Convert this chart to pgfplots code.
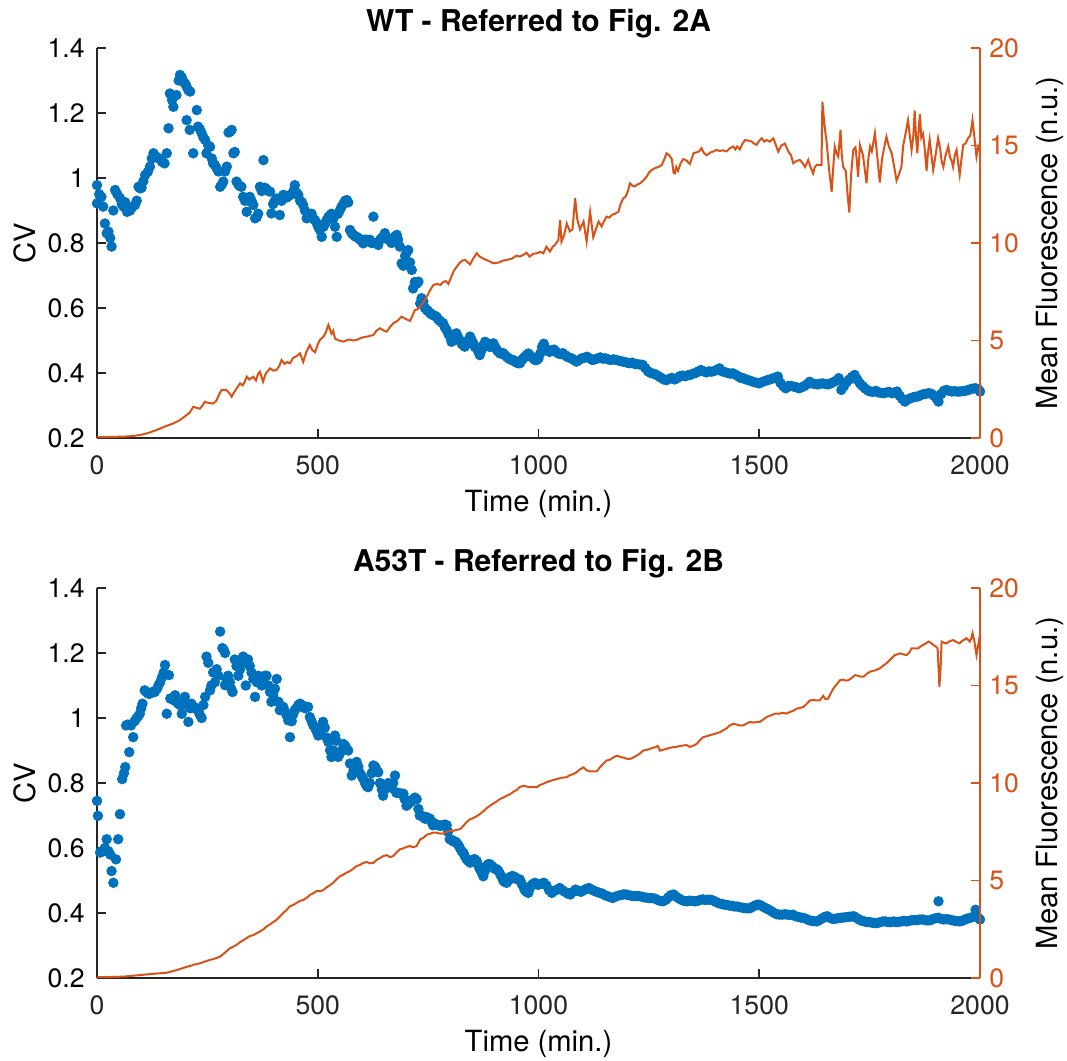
\documentclass[border=0pt]{standalone}
\usepackage{fontspec}
\setmainfont{TeX Gyre Heros}
\usepackage{pgfplots}
\pgfplotsset{compat=1.18}

\definecolor{mblue}{RGB}{0,114,189}
\definecolor{morange}{RGB}{217,83,25}
\definecolor{mgray}{RGB}{38,38,38}

\pgfplotsset{
  base/.style={
    scale only axis, width=441.5pt, height=195pt,
    xmin=0, xmax=2000, clip=false,
    tick align=inside, major tick length=4.5pt,
    /pgf/number format/assume math mode=true,
    /pgf/number format/1000 sep={},
    tick label style={font=\fontsize{13.3}{15}\selectfont, inner sep=0pt},
    axis line style={line width=0.9pt},
    every tick/.style={line width=0.9pt},
  },
  cvaxis/.style={
    base,
    axis x line*=bottom, axis y line*=left,
    ymin=0.2, ymax=1.4,
    ytick={0.2,0.4,0.6,0.8,1,1.2,1.4},
    xtick={0,500,1000,1500,2000},
    axis line style={mgray}, every tick/.append style={mgray},
    xticklabel style={anchor=base, yshift=-18.5pt, text=mgray},
    yticklabel style={anchor=east, xshift=-6pt, text=black},
    ylabel={CV}, xlabel={Time (min.)},
    every axis y label/.style={at={(axis description cs:-0.0702,0.5)}, rotate=90, anchor=base, font=\fontsize{14.6}{16}\selectfont},
    every axis x label/.style={at={(axis description cs:0.5,0)}, yshift=-37pt, anchor=base, font=\fontsize{14.6}{16}\selectfont},
    every axis title/.style={at={(axis description cs:0.5,1)}, yshift=8pt, anchor=base, font=\fontsize{15}{17}\selectfont\bfseries},
  },
  flaxis/.style={
    base,
    axis x line=none, axis y line*=right,
    ymin=0, ymax=20, ytick={0,5,10,15,20},
    axis line style={morange}, every tick/.append style={morange},
    yticklabel style={anchor=west, xshift=4.5pt, text=morange},
    ylabel={Mean Fluorescence (n.u.)},
    every axis y label/.style={at={(axis description cs:1.0872,0.5)}, rotate=90, anchor=base, font=\fontsize{14.6}{16}\selectfont},
  },
  cvdots/.style={only marks, mark=*, mark size=2.4pt, mblue, mark options={draw=mblue, fill=mblue}},
  flline/.style={morange, line width=1pt, no marks},
}

\begin{document}
\begin{tikzpicture}
\useasboundingbox (-48.5pt,-41.5pt) rectangle (485pt,489pt);

% ---------------- WT ----------------
\begin{axis}[cvaxis, at={(0,270pt)}, anchor=south west, title={WT - Referred to Fig. 2A}]
\addplot[cvdots] coordinates {
(0,0.978)(0,0.922)(5,0.95)(10,0.942)(14,0.912)(18,0.86)(22,0.83)(26,0.835)(30,0.815)(33,0.789)
(37,0.90)(41,0.963)(46,0.95)(52,0.938)(56,0.92)(60,0.912)(64,0.925)(68,0.896)(72,0.905)(75,0.90)
(80,0.91)(86,0.917)(90,0.93)(94,0.973)(98,0.968)(101,0.97)(105,0.99)(109,1.009)(115,1.019)(120,1.035)
(124,1.06)(128,1.076)(135,1.065)(140,1.06)(147,1.05)(153,1.045)(158,1.076)(162,1.153)(165,1.26)(170,1.24)
(173,1.219)(180,1.255)(185,1.30)(188,1.317)(192,1.31)(196,1.296)(200,1.29)(203,1.281)(207,1.27)(211,1.266)
(203,1.178)(210,1.148)(218,1.076)(226,1.209)(229,1.158)(233,1.15)(237,1.138)(241,1.125)(245,1.117)(248,1.076)
(252,1.10)(256,1.096)(260,1.06)(263,1.045)(267,1.04)(271,1.03)(275,1.02)(279,0.973)(283,0.98)(286,0.989)
(290,1.02)(294,1.035)(298,1.14)(301,1.142)(305,1.148)(309,1.076)(312,1.08)(316,0.989)(320,0.98)(324,0.975)
(327,0.973)(331,0.942)(335,0.93)(339,0.896)(343,0.93)(346,0.942)(350,0.93)(354,0.917)(358,0.876)(362,0.88)
(365,0.89)(369,0.973)(373,0.96)(377,1.055)(380,0.97)(384,0.965)(388,0.96)(392,0.958)(395,0.891)(399,0.92)
(403,0.93)(407,0.937)(410,0.935)(414,0.886)(418,0.93)(422,0.948)(426,0.945)(430,0.94)(434,0.945)(437,0.948)
(441,0.95)(445,0.96)(448,0.978)(452,0.955)(456,0.948)(460,0.93)(464,0.925)(467,0.917)(471,0.90)(475,0.876)
(479,0.88)(482,0.885)(486,0.89)(490,0.875)(494,0.87)(498,0.86)(501,0.85)(505,0.84)(509,0.819)(513,0.85)
(517,0.86)(520,0.87)(524,0.88)(528,0.885)(531,0.89)(535,0.875)(539,0.85)(543,0.819)(546,0.89)(550,0.90)
(554,0.912)(558,0.92)(562,0.93)(566,0.932)(569,0.925)(573,0.84)(577,0.83)(581,0.825)(585,0.82)(588,0.819)
(592,0.815)(596,0.81)(600,0.805)(603,0.799)(607,0.81)(611,0.81)(615,0.805)(618,0.81)(622,0.80)(626,0.881)
(630,0.80)(633,0.80)(637,0.794)(641,0.81)(645,0.815)(648,0.819)(652,0.83)(656,0.815)(660,0.81)(664,0.809)
(667,0.80)(671,0.815)(675,0.82)(679,0.825)(682,0.81)(686,0.789)(690,0.737)(694,0.73)(698,0.76)(701,0.77)
(705,0.778)(709,0.74)(713,0.717)(716,0.66)(720,0.68)(724,0.675)(728,0.681)(732,0.614)(735,0.63)(739,0.62)
(743,0.60)(747,0.594)(750,0.59)(754,0.585)(758,0.58)(762,0.578)(766,0.575)(769,0.573)(773,0.565)(777,0.56)
(781,0.555)(784,0.553)(788,0.54)(792,0.532)(796,0.52)(800,0.51)(803,0.496)(807,0.50)(811,0.515)(814,0.522)
(818,0.51)(822,0.50)(826,0.49)(830,0.485)(833,0.481)(837,0.49)(841,0.50)(845,0.512)(849,0.50)(853,0.49)
(856,0.48)(860,0.476)(864,0.465)(867,0.455)(871,0.47)(875,0.485)(879,0.496)(883,0.49)(887,0.485)(890,0.48)
(894,0.49)(898,0.491)(902,0.48)(906,0.47)(910,0.465)(913,0.46)(917,0.46)(920,0.461)(924,0.455)(928,0.45)
(932,0.445)(935,0.443)(939,0.44)(943,0.44)(947,0.435)(950,0.432)(954,0.43)(958,0.43)(962,0.44)(966,0.445)
(969,0.45)(973,0.455)(977,0.46)(980,0.455)(984,0.45)(988,0.445)(992,0.44)(996,0.44)(1000,0.445)
(1004,0.46)(1008,0.48)(1012,0.49)(1016,0.475)(1020,0.47)(1025,0.465)(1030,0.47)(1035,0.472)(1040,0.465)(1045,0.46)
(1050,0.458)(1055,0.461)(1060,0.455)(1065,0.45)(1070,0.447)(1075,0.445)(1080,0.44)(1086,0.435)(1092,0.44)(1098,0.445)
(1104,0.447)(1110,0.45)(1116,0.445)(1122,0.44)(1128,0.442)(1134,0.445)(1140,0.448)(1146,0.444)(1152,0.445)(1158,0.442)
(1164,0.44)(1170,0.442)(1176,0.44)(1182,0.438)(1188,0.436)(1194,0.434)(1200,0.432)(1206,0.43)(1212,0.432)(1218,0.428)
(1224,0.427)(1230,0.426)(1236,0.425)(1242,0.415)(1248,0.405)(1254,0.40)(1260,0.398)(1266,0.395)(1272,0.39)(1278,0.385)
(1284,0.38)(1290,0.378)(1296,0.382)(1302,0.385)(1308,0.38)(1314,0.384)(1320,0.39)(1326,0.392)(1332,0.39)(1338,0.393)
(1344,0.394)(1350,0.398)(1356,0.40)(1362,0.405)(1368,0.409)(1374,0.405)(1380,0.402)(1386,0.405)(1392,0.404)(1398,0.406)
(1404,0.41)(1410,0.414)(1416,0.405)(1422,0.403)(1428,0.40)(1434,0.398)(1440,0.399)(1446,0.395)(1452,0.39)(1458,0.385)
(1464,0.384)(1470,0.38)(1476,0.378)(1482,0.375)(1488,0.372)(1494,0.37)(1500,0.368)(1506,0.372)(1512,0.375)(1518,0.378)
(1524,0.38)(1530,0.383)(1536,0.385)(1542,0.389)(1548,0.37)(1554,0.36)(1560,0.353)(1566,0.36)(1572,0.36)(1578,0.358)
(1584,0.356)(1590,0.353)(1596,0.356)(1602,0.36)(1608,0.365)(1614,0.373)(1620,0.368)(1626,0.366)(1632,0.365)(1638,0.367)
(1644,0.368)(1650,0.366)(1656,0.365)(1662,0.368)(1668,0.372)(1674,0.376)(1680,0.384)(1686,0.348)(1692,0.36)(1698,0.372)
(1704,0.38)(1710,0.388)(1716,0.394)(1722,0.38)(1728,0.368)(1734,0.36)(1740,0.352)(1746,0.346)(1752,0.343)(1758,0.342)
(1764,0.345)(1770,0.34)(1776,0.339)(1782,0.338)(1788,0.34)(1794,0.342)(1800,0.338)(1806,0.34)(1812,0.343)(1818,0.33)
(1824,0.32)(1830,0.312)(1836,0.318)(1842,0.322)(1848,0.325)(1854,0.327)(1860,0.328)(1866,0.332)(1872,0.335)(1878,0.336)
(1884,0.338)(1890,0.336)(1896,0.33)(1902,0.32)(1906,0.312)(1912,0.335)(1918,0.345)(1924,0.348)(1930,0.345)(1936,0.343)
(1942,0.344)(1948,0.343)(1954,0.343)(1960,0.344)(1966,0.345)(1972,0.347)(1978,0.35)(1984,0.352)(1990,0.353)(1996,0.35)
(2000,0.343)
};
\end{axis}
\begin{axis}[flaxis, at={(0,270pt)}, anchor=south west]
\addplot[flline] coordinates {
(0,0.05)(20,0.05)(40,0.06)(60,0.07)(80,0.1)(97,0.15)(115,0.25)(135,0.41)(155,0.6)(173,0.75)
(188,0.92)(203,1.18)(210,1.3)(218,1.6)(225,1.55)(233,1.5)(240,1.7)(244,1.86)(252,1.8)(263,1.77)
(270,1.9)(276,2.2)(282,2.46)(293,2.46)(300,2.3)(305,2.12)(312,2.4)(318,2.6)(324,2.8)(330,2.7)
(335,2.9)(339,3.14)(345,3.0)(354,3.14)(360,2.95)(365,3.3)(369,3.4)(376,2.89)(382,3.3)(392,3.57)
(400,3.45)(407,3.5)(413,3.7)(418,4.0)(425,3.8)(431,3.9)(437,3.83)(444,4.1)(452,4.2)(460,4.34)
(467,3.9)(474,4.4)(482,4.77)(488,4.5)(494,4.4)(500,4.8)(505,5.03)(513,5.2)(518,5.4)(524,5.8)
(531,5.35)(535,5.5)(539,5.1)(548,5.0)(558,4.94)(570,5.05)(580,5.0)(588,5.03)(600,5.15)(612,5.2)
(626,5.28)(633,5.5)(641,5.63)(650,5.5)(656,5.45)(664,5.7)(671,5.88)(680,6.0)(690,6.22)(700,6.1)
(709,6.0)(715,6.3)(720,6.56)(726,6.6)(732,6.73)(740,7.0)(747,7.25)(755,7.6)(762,7.85)(770,7.9)
(778,7.85)(784,8.0)(790,8.05)(796,7.9)(803,8.3)(809,8.6)(815,8.79)(822,9.0)(828,9.1)(834,9.13)
(840,9.0)(845,8.9)(852,9.2)(860,9.47)(867,9.3)(875,9.2)(885,9.1)(898,8.96)(910,9.0)(920,9.1)
(928,9.13)(940,9.2)(950,9.35)(958,9.3)(966,9.4)(973,9.5)(980,9.3)(988,9.45)(996,9.47)(1004,9.55)
(1011,9.47)(1018,9.81)(1026,9.56)(1032,9.8)(1037,9.9)(1045,10.15)(1049,11.18)(1052,10.07)(1058,10.4)(1064,11.0)
(1071,10.6)(1077,10.7)(1083,12.29)(1088,11.2)(1094,10.7)(1102,11.1)(1109,10.07)(1117,11.6)(1124,10.3)(1130,10.7)
(1136,11.1)(1143,10.85)(1148,11.1)(1154,11.35)(1160,11.3)(1167,11.45)(1173,11.5)(1181,11.6)(1186,12.0)(1192,12.29)
(1198,12.4)(1203,12.7)(1207,13.06)(1212,12.95)(1218,12.9)(1224,13.0)(1230,13.06)(1237,13.2)(1245,13.4)(1250,13.6)
(1256,13.74)(1265,13.85)(1272,13.9)(1279,14.0)(1285,14.3)(1290,14.6)(1296,14.5)(1302,14.3)(1306,13.6)(1309,13.57)
(1312,13.9)(1316,13.7)(1322,14.1)(1328,14.3)(1334,14.25)(1343,14.05)(1351,14.6)(1358,14.65)(1364,14.7)(1369,14.86)
(1375,14.6)(1381,14.5)(1390,14.65)(1397,14.7)(1403,14.77)(1410,14.72)(1418,14.75)(1426,14.7)(1433,14.85)(1441,14.95)
(1446,14.8)(1450,14.95)(1456,14.8)(1462,15.1)(1468,15.28)(1475,15.25)(1483,15.2)(1488,15.1)(1494,15.03)(1500,15.25)
(1506,15.37)(1511,15.2)(1517,15.28)(1524,15.2)(1532,15.37)(1538,15.0)(1543,14.68)(1550,15.0)(1558,15.1)(1562,14.9)
(1566,14.68)(1572,14.5)(1577,14.09)(1584,14.2)(1592,14.26)(1598,14.1)(1604,13.9)(1611,14.26)(1616,13.9)(1622,13.57)
(1626,13.9)(1630,14.0)(1641,14.0)(1643,17.25)(1648,16.0)(1653,15.1)(1658,13.8)(1664,12.63)(1668,14.0)(1671,14.95)
(1675,14.6)(1679,14.43)(1684,15.8)(1687,14.5)(1690,13.9)(1696,13.7)(1700,12.5)(1704,11.56)(1708,13.5)(1713,14.77)
(1718,14.9)(1721,14.2)(1724,13.4)(1728,15.03)(1735,14.5)(1743,13.06)(1747,14.3)(1751,14.95)(1755,14.7)(1762,15.63)
(1767,14.5)(1773,13.1)(1778,14.3)(1783,14.9)(1788,15.45)(1793,15.0)(1800,14.6)(1805,14.0)(1811,13.2)(1816,13.5)
(1822,13.9)(1826,15.0)(1830,15.45)(1837,16.3)(1841,15.5)(1845,14.77)(1849,15.5)(1852,16.8)(1855,15.5)(1858,14.6)
(1861,15.8)(1864,16.6)(1867,15.4)(1871,15.6)(1875,14.8)(1879,13.7)(1882,14.6)(1886,15.3)(1890,14.5)(1894,13.75)
(1900,14.6)(1905,15.37)(1910,14.8)(1913,14.2)(1917,13.9)(1922,14.5)(1928,14.95)(1932,14.4)(1936,14.2)(1939,13.9)
(1943,14.5)(1947,14.77)(1951,14.0)(1954,13.5)(1958,14.3)(1962,15.03)(1967,15.1)(1973,15.37)(1978,15.5)(1983,16.3)
(1987,15.5)(1992,14.43)(1996,14.95)(2000,14.7)
};
\end{axis}

% ---------------- A53T ----------------
\begin{axis}[cvaxis, at={(0,0)}, anchor=south west, title={A53T - Referred to Fig. 2B}]
\addplot[cvdots] coordinates {
(0,0.745)(2,0.699)(7,0.586)(10,0.59)(14,0.59)(18,0.60)(22,0.627)(26,0.59)(30,0.58)(33,0.529)
(37,0.493)(43,0.565)(48,0.627)(52,0.704)(57,0.812)(61,0.83)(64,0.849)(66,0.977)(70,0.98)(73,0.895)
(77,0.977)(82,0.941)(85,0.99)(89,0.998)(93,1.005)(97,1.013)(100,1.03)(103,1.044)(108,1.085)(112,1.08)
(116,1.075)(120,1.075)(125,1.08)(131,1.08)(136,1.09)(139,1.10)(143,1.11)(147,1.125)(151,1.14)(154,1.163)
(158,1.013)(163,1.132)(166,1.06)(169,1.06)(173,1.055)(177,1.07)(180,1.05)(184,1.044)(188,1.04)(192,1.013)
(196,1.05)(199,1.065)(203,1.04)(207,0.988)(211,1.03)(214,1.044)(218,1.035)(222,1.03)(226,1.03)(230,1.02)
(233,1.01)(237,1.0)(241,1.04)(245,1.065)(248,1.189)(252,1.17)(256,1.085)(259,1.10)(263,1.14)(267,1.11)
(271,1.15)(275,1.13)(279,1.266)(284,1.215)(287,1.21)(290,1.2)(290,1.101)(294,1.12)(297,1.13)(301,1.11)
(304,1.09)(307,1.08)(312,1.18)(316,1.16)(320,1.13)(324,1.15)(328,1.17)(331,1.189)(334,1.18)(337,1.1)
(342,1.18)(346,1.16)(350,1.14)(354,1.12)(358,1.065)(362,1.11)(365,1.13)(369,1.12)(373,1.1)(377,1.12)
(380,1.13)(384,1.13)(388,1.10)(392,1.08)(395,1.05)(399,1.07)(403,1.09)(407,1.12)(411,1.05)(414,1.024)
(418,1.03)(422,1.034)(426,1.02)(429,1.01)(433,0.993)(437,0.941)(441,0.99)(444,1.01)(448,1.024)(452,1.03)
(456,1.04)(460,1.044)(464,1.04)(468,1.035)(471,1.03)(475,1.034)(478,1.034)(482,1.003)(486,0.99)(490,0.977)
(494,0.97)(497,0.96)(501,0.946)(505,0.96)(509,0.975)(512,0.988)(516,0.97)(520,0.94)(524,0.926)(528,0.90)
(531,0.88)(535,0.90)(539,0.946)(542,0.93)(546,0.88)(550,0.89)(554,0.90)(558,0.92)(562,0.915)(565,0.905)
(569,0.90)(573,0.86)(577,0.823)(581,0.84)(585,0.855)(588,0.865)(592,0.85)(596,0.83)(600,0.82)(603,0.813)
(607,0.80)(611,0.79)(614,0.787)(618,0.80)(622,0.83)(626,0.854)(630,0.85)(633,0.84)(637,0.833)(641,0.80)
(645,0.78)(648,0.761)(652,0.78)(656,0.79)(660,0.80)(664,0.79)(667,0.785)(671,0.80)(675,0.823)(678,0.77)
(682,0.77)(686,0.768)(690,0.767)(694,0.767)(697,0.75)(701,0.73)(705,0.735)(709,0.74)(713,0.745)(716,0.75)
(720,0.755)(724,0.75)(728,0.72)(731,0.70)(735,0.70)(739,0.695)(743,0.69)(747,0.695)(750,0.69)(754,0.69)
(758,0.68)(761,0.67)(765,0.675)(769,0.672)(773,0.67)(777,0.668)(781,0.67)(784,0.67)(788,0.672)(792,0.67)
(795,0.65)(799,0.627)(803,0.625)(807,0.62)(811,0.62)(814,0.617)(818,0.61)(822,0.60)(826,0.59)(830,0.585)
(833,0.575)(837,0.565)(841,0.56)(845,0.555)(849,0.56)(853,0.565)(856,0.565)(860,0.56)(864,0.545)(867,0.535)
(871,0.525)(875,0.513)(879,0.53)(883,0.545)(886,0.55)(890,0.55)(894,0.545)(898,0.54)(902,0.535)(905,0.535)
(909,0.53)(913,0.52)(917,0.51)(920,0.50)(924,0.495)(928,0.493)(932,0.50)(935,0.51)(939,0.513)(943,0.513)
(947,0.51)(950,0.505)(954,0.503)(958,0.503)(962,0.49)(966,0.48)(969,0.47)(973,0.465)(977,0.462)(980,0.475)
(984,0.485)(988,0.49)(992,0.493)(996,0.488)(1000,0.487)
(1006,0.49)(1012,0.493)(1018,0.485)(1024,0.47)(1030,0.462)(1036,0.468)(1042,0.472)(1048,0.477)(1054,0.47)(1060,0.465)
(1066,0.46)(1072,0.457)(1078,0.465)(1084,0.472)(1090,0.468)(1096,0.465)(1102,0.47)(1108,0.474)(1114,0.477)(1120,0.472)
(1126,0.468)(1132,0.465)(1138,0.462)(1144,0.46)(1150,0.455)(1156,0.452)(1162,0.449)(1168,0.446)(1174,0.45)(1180,0.453)
(1186,0.455)(1192,0.457)(1198,0.457)(1204,0.455)(1210,0.453)(1216,0.452)(1222,0.452)(1228,0.452)(1234,0.45)(1240,0.448)
(1246,0.447)(1252,0.446)(1258,0.446)(1264,0.444)(1270,0.44)(1276,0.437)(1282,0.436)(1288,0.44)(1294,0.448)(1300,0.455)
(1306,0.457)(1312,0.45)(1318,0.445)(1324,0.44)(1330,0.437)(1336,0.436)(1342,0.438)(1348,0.437)(1354,0.436)(1360,0.437)
(1366,0.44)(1372,0.442)(1378,0.44)(1384,0.441)(1390,0.441)(1396,0.438)(1402,0.434)(1408,0.43)(1414,0.428)(1420,0.426)
(1426,0.425)(1432,0.423)(1438,0.422)(1444,0.42)(1450,0.42)(1456,0.418)(1462,0.416)(1468,0.415)(1474,0.414)(1480,0.415)
(1486,0.42)(1492,0.424)(1498,0.426)(1504,0.423)(1510,0.418)(1516,0.414)(1522,0.41)(1528,0.405)(1534,0.40)(1540,0.396)
(1546,0.395)(1552,0.395)(1558,0.396)(1564,0.395)(1570,0.394)(1576,0.395)(1582,0.39)(1588,0.388)(1594,0.386)(1600,0.385)
(1606,0.382)(1612,0.378)(1618,0.376)(1624,0.375)(1630,0.374)(1636,0.378)(1642,0.383)(1648,0.388)(1654,0.39)(1660,0.385)
(1666,0.382)(1672,0.382)(1678,0.384)(1684,0.385)(1690,0.386)(1696,0.387)(1702,0.388)(1708,0.389)(1714,0.39)(1720,0.385)
(1726,0.38)(1732,0.376)(1738,0.374)(1744,0.372)(1750,0.372)(1756,0.37)(1762,0.369)(1768,0.369)(1774,0.372)(1780,0.374)
(1786,0.374)(1792,0.372)(1798,0.372)(1804,0.374)(1810,0.372)(1816,0.373)(1822,0.374)(1828,0.376)(1834,0.374)(1840,0.376)
(1846,0.378)(1852,0.378)(1858,0.378)(1864,0.38)(1870,0.38)(1876,0.378)(1882,0.377)(1888,0.378)(1894,0.382)(1900,0.384)
(1906,0.436)(1906,0.385)(1912,0.382)(1918,0.38)(1924,0.381)(1930,0.38)(1936,0.378)(1942,0.376)(1948,0.375)(1954,0.374)
(1960,0.376)(1966,0.38)(1972,0.383)(1978,0.385)(1984,0.388)(1990,0.41)(1996,0.385)(2000,0.38)
};
\end{axis}
\begin{axis}[flaxis, at={(0,0)}, anchor=south west]
\addplot[flline] coordinates {
(0,0.05)(30,0.05)(60,0.07)(97,0.15)(130,0.22)(158,0.27)(181,0.41)(200,0.55)(211,0.62)(222,0.7)
(233,0.75)(245,0.85)(256,0.93)(268,1.0)(279,1.1)(290,1.3)(301,1.53)(308,1.6)(316,1.7)(325,1.85)
(332,1.95)(339,2.05)(346,2.15)(354,2.2)(362,2.3)(370,2.4)(377,2.5)(384,2.64)(392,2.75)(400,2.88)
(407,2.99)(414,3.15)(422,3.34)(430,3.5)(437,3.68)(445,3.75)(452,3.85)(460,3.95)(467,4.0)(475,4.11)
(482,4.25)(490,4.35)(497,4.45)(505,4.45)(512,4.5)(520,4.65)(527,4.75)(535,4.88)(542,5.05)(550,5.22)
(558,5.3)(565,5.4)(573,5.48)(580,5.6)(588,5.74)(596,5.8)(603,5.9)(611,5.95)(618,5.88)(626,5.9)
(633,6.05)(641,6.15)(648,6.25)(656,6.3)(664,6.2)(671,6.25)(679,6.45)(686,6.6)(694,6.65)(701,6.72)
(709,6.77)(716,6.7)(724,6.77)(732,7.11)(740,7.2)(747,7.35)(755,7.4)(762,7.46)(770,7.45)(777,7.4)
(784,7.4)(792,7.5)(800,7.55)(807,7.55)(815,7.6)(822,7.63)(830,7.8)(837,8.0)(845,8.14)(852,8.2)
(860,8.3)(867,8.4)(875,8.55)(882,8.7)(890,8.83)(898,8.95)(905,9.05)(913,9.18)(920,9.25)(928,9.35)
(936,9.43)(943,9.55)(951,9.65)(958,9.8)(966,9.86)(973,9.82)(981,9.78)(988,9.8)(996,9.78)(1003,9.9)
(1010,9.95)(1018,10.04)(1026,10.1)(1033,10.15)(1041,10.2)(1049,10.25)(1056,10.28)(1064,10.3)(1071,10.4)(1079,10.46)
(1086,10.55)(1094,10.7)(1102,10.8)(1109,10.65)(1117,10.6)(1124,10.6)(1132,10.6)(1139,10.8)(1147,11.0)(1154,11.15)
(1162,11.2)(1169,11.3)(1177,11.4)(1184,11.35)(1192,11.3)(1199,11.25)(1207,11.23)(1214,11.3)(1222,11.4)(1229,11.5)
(1237,11.66)(1245,11.7)(1252,11.75)(1258,11.8)(1264,11.83)(1270,11.9)(1275,11.66)(1282,11.7)(1290,11.75)(1297,11.8)
(1305,11.84)(1312,11.85)(1320,11.9)(1328,11.92)(1335,11.95)(1343,11.85)(1351,11.92)(1358,12.0)(1366,12.2)(1373,12.35)
(1381,12.4)(1388,12.45)(1396,12.5)(1403,12.55)(1411,12.6)(1418,12.7)(1426,12.8)(1433,12.95)(1441,13.04)(1448,13.0)
(1456,12.95)(1464,12.95)(1471,13.05)(1479,13.13)(1486,13.1)(1494,13.12)(1501,13.13)(1509,13.25)(1517,13.39)(1524,13.45)
(1530,13.5)(1536,13.56)(1545,13.55)(1553,13.6)(1562,13.56)(1570,13.65)(1577,13.7)(1585,13.81)(1592,13.85)(1600,13.9)
(1607,14.05)(1615,14.24)(1622,14.25)(1630,14.24)(1637,14.24)(1645,14.47)(1650,14.3)(1656,14.33)(1662,14.6)(1668,14.85)
(1675,15.05)(1683,15.27)(1690,15.3)(1696,15.25)(1702,15.27)(1710,15.4)(1717,15.53)(1724,15.5)(1730,15.45)(1736,15.45)
(1744,15.6)(1751,15.71)(1758,15.75)(1766,15.8)(1773,15.88)(1780,16.0)(1786,16.1)(1792,16.22)(1800,16.4)(1807,16.56)
(1813,16.6)(1819,16.65)(1826,16.6)(1834,16.56)(1840,16.7)(1845,16.9)(1852,16.9)(1860,16.9)(1865,17.0)(1871,17.08)
(1877,17.15)(1883,17.25)(1888,17.2)(1894,17.08)(1900,17.0)(1904,16.9)(1908,14.93)(1911,16.0)(1913,17.25)(1918,17.2)
(1924,17.16)(1930,17.25)(1935,17.3)(1939,17.33)(1945,17.25)(1950,17.2)(1954,17.16)(1960,17.3)(1965,17.35)(1969,17.42)
(1973,17.35)(1977,17.25)(1980,17.4)(1983,17.68)(1987,17.3)(1992,16.56)(1996,17.08)(2000,17.6)
};
\end{axis}
\end{tikzpicture}
\end{document}
